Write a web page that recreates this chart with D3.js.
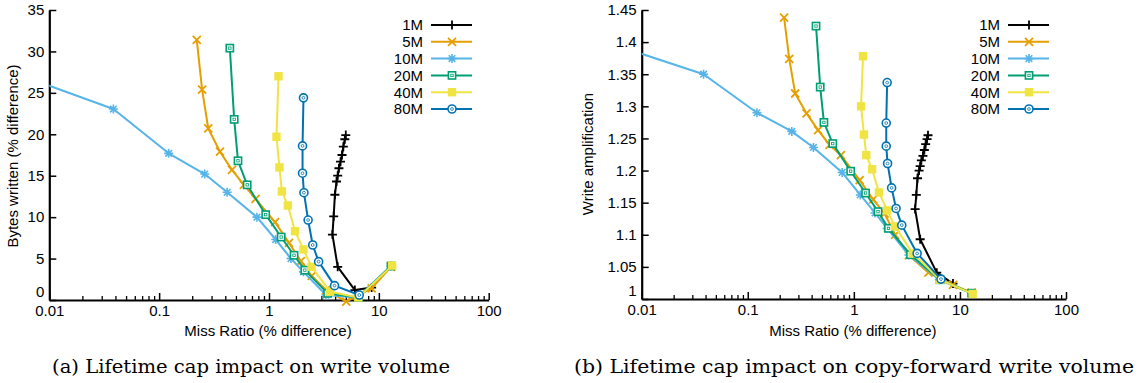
<!DOCTYPE html>
<html>
<head>
<meta charset="utf-8">
<script src="https://cdn.jsdelivr.net/npm/d3@7"></script>
<style>
  body { margin: 0; background: #fff; }
  svg { display: block; }
</style>
</head>
<body>
<script>
// series names and per-series data (miss ratio % diff, bytes written % diff, write amplification)
var sizes = ["1M", "5M", "10M", "20M", "40M", "80M"];

var mr1M = [5.0, 4.9, 4.75, 4.62, 4.48, 4.33, 4.22, 4.12, 3.98, 3.88, 3.78, 4.22, 6.05, 8.6];
var bw1M = [19.9, 19.4, 18.5, 17.5, 16.7, 15.9, 15.0, 14.3, 12.7, 10.1, 7.9, 4.0, 1.2, 1.5];
var wa1M = [1.255, 1.249, 1.241, 1.232, 1.223, 1.216, 1.207, 1.200, 1.188, 1.162, 1.140, 1.093, 1.041, 1.024];

var mr5M = [0.220, 0.246, 0.280, 0.358, 0.46, 0.59, 0.755, 1.135, 1.52, 1.95, 2.45, 3.3, 5.05, 8.6, 12.9];
var bw5M = [31.4, 25.4, 20.7, 17.9, 15.7, 13.9, 12.2, 9.4, 6.9, 4.7, 2.9, 1.2, -0.2, 1.4, 4.0];
var wa5M = [1.438, 1.374, 1.320, 1.289, 1.263, 1.240, 1.224, 1.185, 1.155, 1.133, 1.100, 1.068, 1.041, 1.022, 1.010];

var mr10M = [0.005, 0.0383, 0.122, 0.26, 0.416, 0.776, 1.15, 1.585, 2.06, 3.3, 6.4, 12.9];
var bw10M = [27.3, 23.05, 17.7, 15.2, 13.0, 10.0, 7.3, 5.0, 3.4, 0.6, 0.3, 4.1];
var wa10M = [1.398, 1.350, 1.290, 1.261, 1.236, 1.197, 1.162, 1.134, 1.110, 1.0685, 1.030, 1.009];

var mr20M = [0.44, 0.482, 0.522, 0.633, 0.933, 1.29, 1.69, 2.12, 3.42, 6.5, 12.9];
var bw20M = [30.4, 21.8, 16.8, 13.9, 10.3, 7.6, 5.4, 3.6, 0.8, 0.3, 4.1];
var wa20M = [1.425, 1.330, 1.275, 1.242, 1.199, 1.165, 1.136, 1.110, 1.069, 1.030, 1.009];

var mr40M = [1.22, 1.17, 1.245, 1.31, 1.485, 1.725, 2.06, 2.44, 3.6, 6.5, 13.2];
var bw40M = [27.0, 19.7, 16.0, 13.1, 11.4, 8.3, 6.1, 4.0, 1.0, 0.3, 4.15];
var wa40M = [1.378, 1.300, 1.256, 1.224, 1.202, 1.166, 1.138, 1.113, 1.071, 1.030, 1.008];

var mr80M = [2.06, 2.02, 2.02, 2.08, 2.27, 2.50, 2.83, 3.95, 6.63];
var bw80M = [24.4, 18.6, 15.3, 12.95, 9.65, 6.64, 4.63, 1.73, 0.6];
var wa80M = [1.337, 1.274, 1.238, 1.211, 1.173, 1.141, 1.115, 1.071, 1.031];

var xTicks = [0.01, 0.1, 1, 10, 100];
var yTicksA = [0, 5, 10, 15, 20, 25, 30, 35];
var yTicksB = [1, 1.05, 1.1, 1.15, 1.2, 1.25, 1.3, 1.35, 1.4, 1.45];

var colors = ["#000000", "#e69f00", "#56b4e9", "#009e73", "#f0e442", "#0072b2"];
var markers = ["plus", "cross", "star", "square", "fsquare", "circle"];

var missRatio = [mr1M, mr5M, mr10M, mr20M, mr40M, mr80M];
var bytesWritten = [bw1M, bw5M, bw10M, bw20M, bw40M, bw80M];
var writeAmp = [wa1M, wa5M, wa10M, wa20M, wa40M, wa80M];

var width = 1138, height = 383;
var font = "'Liberation Sans', Arial, sans-serif";
var fs = "15px ";

var svg = d3.select("body").append("svg")
    .attr("width", width)
    .attr("height", height);

function drawMarker(g, type, color) {
    if (type == "plus") {
        g.append("path").attr("d", "M-4.5,0H4.5M0,-4.5V4.5")
            .attr("stroke", color).attr("stroke-width", 1.8).attr("fill", "none");
    } else if (type == "cross") {
        g.append("path").attr("d", "M-4,-4L4,4M-4,4L4,-4")
            .attr("stroke", color).attr("stroke-width", 1.8).attr("fill", "none");
    } else if (type == "star") {
        g.append("path").attr("d", "M-4.5,0H4.5M0,-4.5V4.5M-3.3,-3.3L3.3,3.3M-3.3,3.3L3.3,-3.3")
            .attr("stroke", color).attr("stroke-width", 1.6).attr("fill", "none");
    } else if (type == "square") {
        g.append("rect").attr("x", -3.6).attr("y", -3.6).attr("width", 7.2).attr("height", 7.2)
            .attr("stroke", color).attr("stroke-width", 1.6).attr("fill", "#fff");
        g.append("rect").attr("x", -1.2).attr("y", -1.2).attr("width", 2.4).attr("height", 2.4)
            .attr("stroke", color).attr("stroke-width", 0.8).attr("fill", "none");
    } else if (type == "fsquare") {
        g.append("rect").attr("x", -4.2).attr("y", -4.2).attr("width", 8.4).attr("height", 8.4)
            .attr("fill", color);
    } else if (type == "circle") {
        g.append("circle").attr("r", 4)
            .attr("stroke", color).attr("stroke-width", 1.6).attr("fill", "#fff");
        g.append("circle").attr("r", 1.4)
            .attr("stroke", color).attr("stroke-width", 0.8).attr("fill", "none");
    }
}

function minorTicks(domain) {
    var out = [];
    for (var e = Math.log10(domain[0]); e < Math.log10(domain[1]); e++) {
        for (var k = 2; k <= 9; k++) out.push(k * Math.pow(10, e));
    }
    return out;
}

function createPanel(opt) {
    var x = d3.scaleLog().domain([0.01, 100]).range([opt.x0, opt.x1]);
    var y = d3.scaleLinear().domain(opt.yDomain).range([opt.yBottom, opt.yTop]);

    var panel = svg.append("g");

    // clip at the left border so the first segment is cut like in the original
    panel.append("clipPath").attr("id", opt.id + "-clip")
        .append("rect")
        .attr("x", opt.x0).attr("y", 0)
        .attr("width", opt.x1 - opt.x0 + 40).attr("height", height);

    // minor ticks on x
    panel.append("g")
        .attr("transform", "translate(0," + opt.yBottom + ")")
        .call(d3.axisBottom(x).tickValues(minorTicks([0.01, 100]))
            .tickSize(-4).tickSizeOuter(0).tickFormat(""))
        .call(g => g.select(".domain").remove())
        .selectAll("line").attr("stroke-width", 1.3);

    var xAxis = panel.append("g")
        .attr("transform", "translate(0," + opt.yBottom + ")")
        .call(d3.axisBottom(x).tickValues(xTicks).tickSize(-7).tickSizeOuter(0)
            .tickPadding(5).tickFormat(d3.format("")));
    xAxis.select(".domain").attr("stroke-width", 2.2);
    xAxis.selectAll("line").attr("stroke-width", 1.5);
    xAxis.selectAll("text").style("font", fs + font).attr("fill", "#000");

    var yAxis = panel.append("g")
        .attr("transform", "translate(" + opt.x0 + ",0)")
        .call(d3.axisLeft(y).tickValues(opt.yTicks).tickSize(-7).tickSizeOuter(0)
            .tickPadding(5).tickFormat(opt.yFormat));
    yAxis.select(".domain").attr("stroke-width", 2.2);
    yAxis.selectAll("line").attr("stroke-width", 1.5);
    yAxis.selectAll("text").style("font", fs + font).attr("fill", "#000");
    // lift the lowest label so it sits above the x labels
    yAxis.selectAll(".tick").filter(d => d == opt.yDomain[0])
        .select("text").attr("y", -8);

    // axis titles
    panel.append("text")
        .attr("transform", "translate(" + opt.yLabelX + "," + opt.yLabelY + ") rotate(-90)")
        .attr("text-anchor", "middle")
        .style("font", fs + font)
        .text(opt.yLabel);

    panel.append("text")
        .attr("x", (opt.x0 + opt.x1) / 2 - 1)
        .attr("y", 336)
        .attr("text-anchor", "middle")
        .style("font", fs + font)
        .text("Miss Ratio (% difference)");

    // series
    var line = d3.line().x(d => x(d[0])).y(d => y(d[1]));
    var plot = panel.append("g").attr("clip-path", "url(#" + opt.id + "-clip)");

    sizes.forEach(function (name, i) {
        var pts = missRatio[i].map((m, j) => [m, opt.values[i][j]]);
        plot.append("path")
            .datum(pts)
            .attr("d", line)
            .attr("fill", "none")
            .attr("stroke", colors[i])
            .attr("stroke-width", 2)
            .attr("stroke-linejoin", "round");
        pts.forEach(function (p) {
            var m = plot.append("g")
                .attr("transform", "translate(" + x(p[0]) + "," + y(p[1]) + ")");
            drawMarker(m, markers[i], colors[i]);
        });
    });

    // legend
    var legend = panel.append("g");
    sizes.forEach(function (name, i) {
        var ly = 25 + i * 16.8;
        legend.append("text")
            .attr("x", opt.legendX)
            .attr("y", ly)
            .attr("dy", "0.36em")
            .attr("text-anchor", "end")
            .style("font", fs + font)
            .text(name);
        legend.append("line")
            .attr("x1", opt.legendX + 8).attr("x2", opt.legendX + 49)
            .attr("y1", ly).attr("y2", ly)
            .attr("stroke", colors[i]).attr("stroke-width", 2);
        var m = legend.append("g")
            .attr("transform", "translate(" + (opt.legendX + 29) + "," + ly + ")");
        drawMarker(m, markers[i], colors[i]);
    });

    // caption
    svg.append("text")
        .attr("x", opt.captionX)
        .attr("y", 373)
        .attr("text-anchor", "middle")
        .attr("textLength", opt.captionLen)
        .attr("lengthAdjust", "spacingAndGlyphs")
        .style("font", "19px 'DejaVu Serif', serif")
        .text(opt.caption);
}

createPanel({
    id: "a",
    x0: 49.3, x1: 488.7,
    yBottom: 300, yTop: 10,
    yDomain: [0, 35],
    yTicks: yTicksA,
    yFormat: d3.format("d"),
    yLabel: "Bytes written (% difference)",
    yLabelX: 18, yLabelY: 156,
    values: bytesWritten,
    legendX: 423,
    caption: "(a) Lifetime cap impact on write volume",
    captionX: 251, captionLen: 398
});

createPanel({
    id: "b",
    x0: 641.7, x1: 1066,
    yBottom: 299, yTop: 10,
    yDomain: [1, 1.45],
    yTicks: yTicksB,
    yFormat: d => d3.format("")(+d.toFixed(2)),
    yLabel: "Write amplification",
    yLabelX: 593, yLabelY: 154,
    values: writeAmp,
    legendX: 1000,
    caption: "(b) Lifetime cap impact on copy-forward write volume",
    captionX: 854, captionLen: 560
});
</script>
</body>
</html>
